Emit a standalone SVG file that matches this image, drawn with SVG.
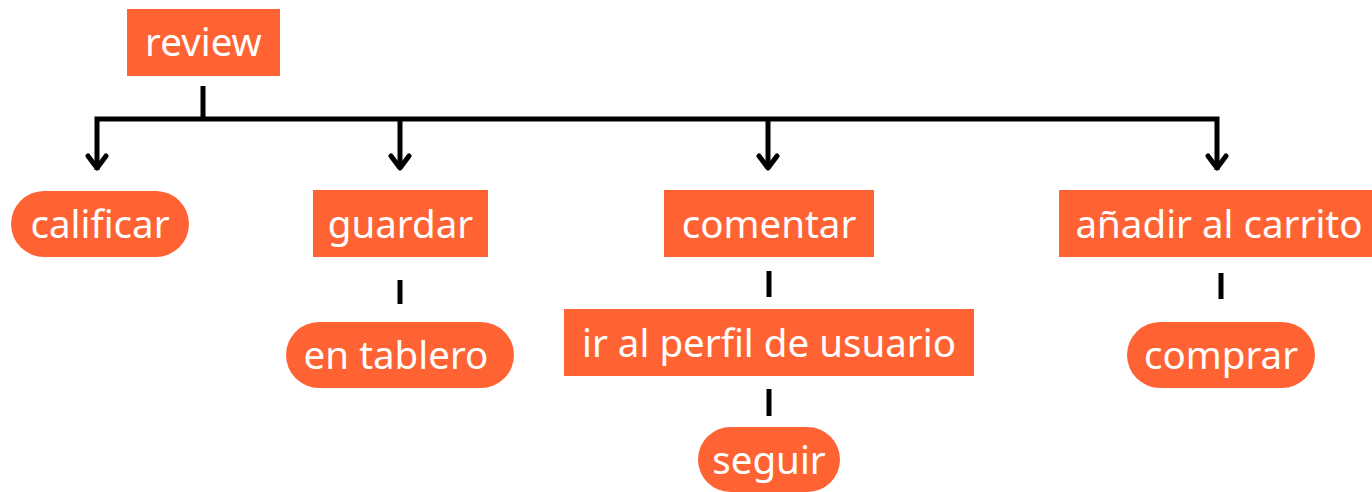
<svg xmlns="http://www.w3.org/2000/svg" width="1372" height="492" viewBox="0 0 1372 492">
<style>
.box{fill:#FF6333}
.t{fill:#FFFFFF;font-family:"Noto Sans","Open Sans",sans-serif;font-size:38.5px;text-anchor:middle;dominant-baseline:central}
.ln{stroke:#000;stroke-width:5;fill:none}
.ar{stroke:#000;stroke-width:5;fill:none;stroke-linecap:round;stroke-linejoin:round}
</style>
<g id="connectors">
<line class="ln" x1="203" y1="86" x2="203" y2="119"/>
<polyline class="ln" points="97,170 97,119 1217,119 1217,170"/>
<line class="ln" x1="400" y1="119" x2="400" y2="168"/>
<line class="ln" x1="768" y1="119" x2="768" y2="168"/>
<polyline class="ar" points="88,156 97,168 106,156"/>
<polyline class="ar" points="391,156 400,168 409,156"/>
<polyline class="ar" points="759,156 768,168 777,156"/>
<polyline class="ar" points="1208,156 1217,168 1226,156"/>
<line class="ln" x1="400" y1="280" x2="400" y2="304"/>
<line class="ln" x1="769" y1="271" x2="769" y2="297"/>
<line class="ln" x1="769" y1="389" x2="769" y2="416"/>
<line class="ln" x1="1221" y1="273" x2="1221" y2="299"/>
</g>
<g id="review"><rect class="box" x="127" y="9" width="153" height="67"/><text class="t" x="203.5" y="41">review</text></g>
<g id="calificar"><rect class="box" x="11" y="191" width="178" height="66" rx="33"/><text class="t" x="100" y="223">calificar</text></g>
<g id="guardar"><rect class="box" x="313" y="190" width="175" height="67"/><text class="t" x="400.5" y="222.5">guardar</text></g>
<g id="comentar"><rect class="box" x="664" y="190" width="210" height="67"/><text class="t" x="769" y="222.5">comentar</text></g>
<g id="anadir"><rect class="box" x="1059" y="190" width="313" height="67"/><text class="t" x="1219" y="222.5">añadir al carrito</text></g>
<g id="en-tablero"><rect class="box" x="286" y="322" width="228" height="66" rx="33"/><text class="t" x="396" y="354">en tablero</text></g>
<g id="perfil"><rect class="box" x="564" y="309" width="410" height="67"/><text class="t" x="769" y="341.5">ir al perfil de usuario</text></g>
<g id="seguir"><rect class="box" x="698" y="427" width="142" height="65" rx="32.5"/><text class="t" x="769" y="458.5">seguir</text></g>
<g id="comprar"><rect class="box" x="1127" y="322" width="188" height="66" rx="33"/><text class="t" x="1221" y="354">comprar</text></g>
</svg>
